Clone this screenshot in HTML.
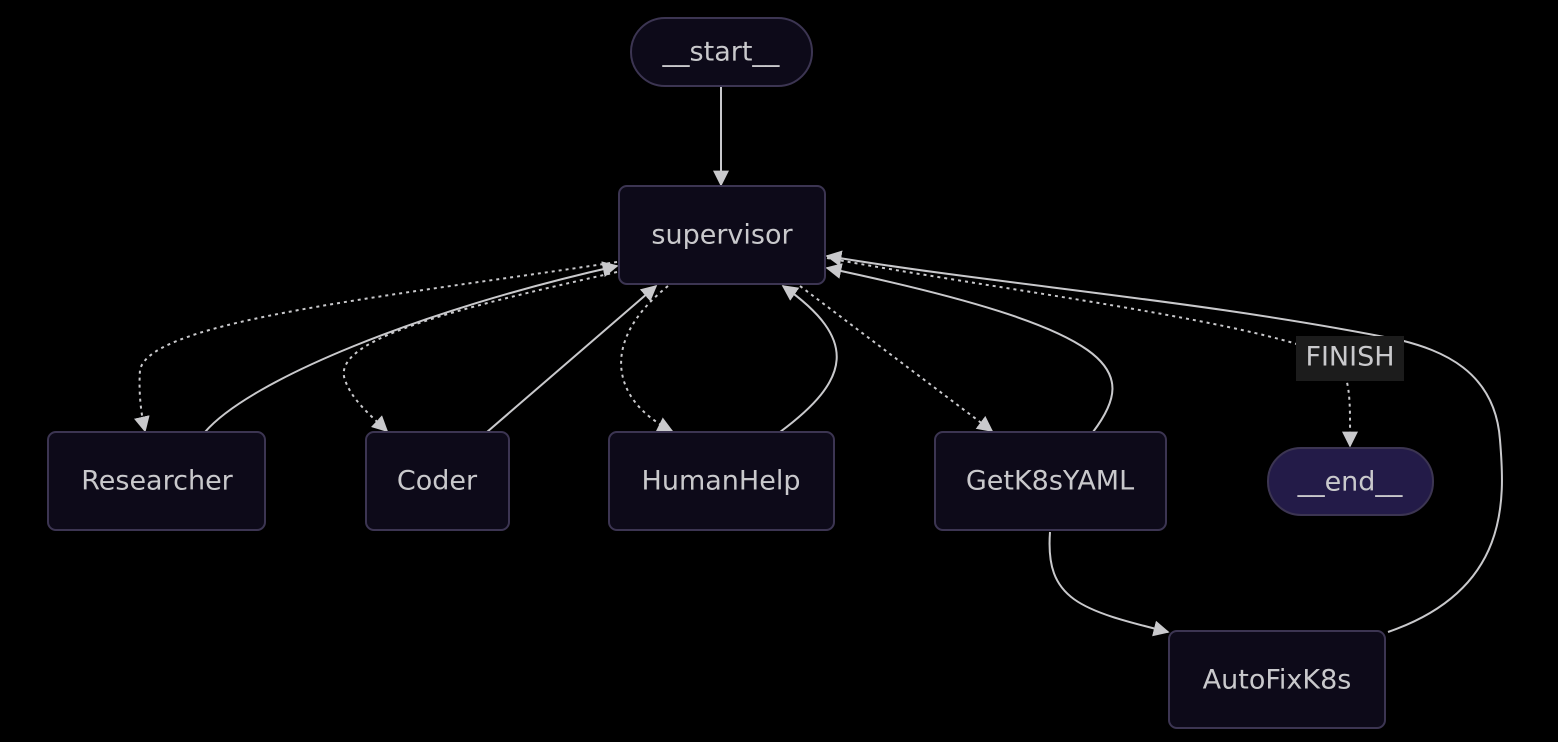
<!DOCTYPE html>
<html><head><meta charset="utf-8"><style>
html,body{margin:0;padding:0;background:#000;width:1558px;height:742px;overflow:hidden}
svg text{font-family:"DejaVu Sans","Liberation Sans",sans-serif;font-size:27px;fill:#c9c9cc;text-anchor:middle;dominant-baseline:central}
</style></head><body>
<svg width="1558" height="742" viewBox="0 0 1558 742">
<defs>
<marker id="a" viewBox="0 0 10 10" refX="9" refY="5" markerWidth="7" markerHeight="7" orient="auto-start-reverse" markerUnits="userSpaceOnUse">
<path d="M0,0 L10,5 L0,10 z" fill="#c9c9cc"/></marker>
<marker id="b" viewBox="0 0 10 10" refX="9" refY="5" markerWidth="16" markerHeight="16" orient="auto" markerUnits="userSpaceOnUse">
<path d="M0,0 L10,5 L0,10 z" fill="#c9c9cc"/></marker>
</defs>
<g fill="none" stroke="#c9c9cc" stroke-width="2">
<path d="M721,86 L721,185" marker-end="url(#b)"/>
<!-- dotted -->
<g stroke-dasharray="3,4">
<path d="M617,262 C 400,295 150,320 140,370 Q138,400 145,431" marker-end="url(#b)"/>
<path d="M617,272 C 450,310 330,340 345,380 C 352,400 370,415 387,431" marker-end="url(#b)"/>
<path d="M668,286 C 600,340 610,400 672,431" marker-end="url(#b)"/>
<path d="M800,286 L 992,431" marker-end="url(#b)"/>
<path d="M827,258 C 1000,290 1250,320 1330,356 C 1352,370 1350,400 1350,446" marker-end="url(#b)"/>
</g>
<path d="M205,432 C 250,380 420,310 617,266" marker-end="url(#b)"/>
<path d="M487,432 L656,286" marker-end="url(#b)"/>
<path d="M780,432 C 850,380 860,340 783,286" marker-end="url(#b)"/>
<path d="M1093,432 C 1140,370 1120,330 827,268" marker-end="url(#b)"/>
<path d="M1388,632 C 1510,590 1505,500 1500,440 C 1495,370 1440,350 1400,340 C 1200,300 1000,285 827,256" marker-end="url(#b)"/>
<path d="M1050,532 C 1045,600 1080,610 1168,632" marker-end="url(#b)"/>
</g>
<g stroke="#3c3552" stroke-width="2" fill="#0d0a19">
<rect x="631" y="18" width="181" height="68" rx="34"/>
<rect x="619" y="186" width="206" height="98" rx="8"/>
<rect x="48" y="432" width="217" height="98" rx="8"/>
<rect x="366" y="432" width="143" height="98" rx="8"/>
<rect x="609" y="432" width="225" height="98" rx="8"/>
<rect x="935" y="432" width="231" height="98" rx="8"/>
<rect x="1169" y="631" width="216" height="97" rx="8"/>
<rect x="1268" y="448" width="165" height="67" rx="33" fill="#231b48"/>
</g>
<rect x="1296" y="336" width="108" height="45" fill="#1c1c1c"/>
<text x="721" y="52">__start__</text>
<text x="722" y="235">supervisor</text>
<text x="157" y="481">Researcher</text>
<text x="437" y="481">Coder</text>
<text x="721" y="481">HumanHelp</text>
<text x="1050" y="481">GetK8sYAML</text>
<text x="1277" y="680">AutoFixK8s</text>
<text x="1350" y="482">__end__</text>
<text x="1350" y="357">FINISH</text>
</svg>
</body></html>
